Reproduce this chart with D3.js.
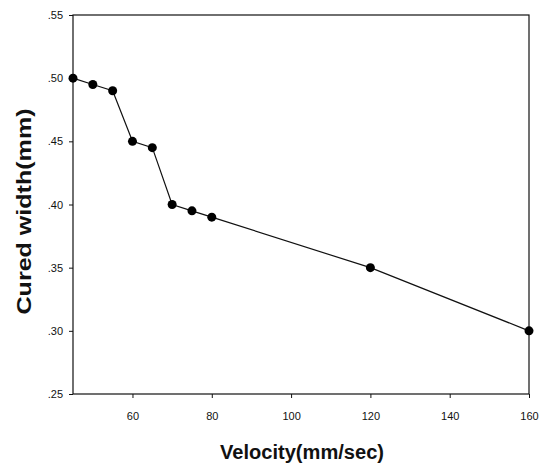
<!DOCTYPE html>
<html>
<head>
<meta charset="utf-8">
<script src="https://cdn.jsdelivr.net/npm/d3@7"></script>
<style>
    body { margin: 0; background: #fff; }
    svg { display: block; }
</style>
</head>
<body>
<svg id="chart"></svg>
<script>
// values
const velocity = [45, 50, 55, 60, 65, 70, 75, 80, 120, 160];
const curedWidth = [0.50, 0.495, 0.49, 0.45, 0.445, 0.40, 0.395, 0.39, 0.35, 0.30];
const xTicks = [60, 80, 100, 120, 140, 160];
const yTicks = [0.25, 0.30, 0.35, 0.40, 0.45, 0.50, 0.55];

const width = 545;
const height = 468;
const margin = {top: 15, right: 16, bottom: 74, left: 73};

const svg = d3.select("#chart")
    .attr("width", width)
    .attr("height", height);

const x = d3.scaleLinear()
    .domain([45, 160])
    .range([margin.left, width - margin.right]);

const y = d3.scaleLinear()
    .domain([0.25, 0.55])
    .range([height - margin.bottom, margin.top]);

const fmt = d => d3.format(".2f")(d).replace(/^0/, "");

// frame
svg.append("rect")
    .attr("x", margin.left)
    .attr("y", margin.top)
    .attr("width", x(160) - x(45))
    .attr("height", y(0.25) - y(0.55))
    .attr("fill", "none")
    .attr("stroke", "#111")
    .attr("stroke-width", 1.2);

const xAxis = svg.append("g")
    .attr("transform", `translate(0,${y(0.25)})`)
    .call(d3.axisBottom(x).tickValues(xTicks).tickSize(4).tickPadding(14));

const yAxis = svg.append("g")
    .attr("transform", `translate(${x(45)},0)`)
    .call(d3.axisLeft(y).tickValues(yTicks).tickFormat(fmt).tickSize(4).tickPadding(6));

[xAxis, yAxis].forEach(a =>
{
    a.select(".domain").remove();
    a.selectAll("line").attr("stroke", "#111");
    a.selectAll("text")
        .attr("fill", "#111")
        .attr("font-family", "Arial, 'Liberation Sans', sans-serif")
        .attr("font-size", "11px");
});

// series
const pts = velocity.map((v, i) => [v, curedWidth[i]]);

svg.append("path")
    .datum(pts)
    .attr("fill", "none")
    .attr("stroke", "#111")
    .attr("stroke-width", 1.2)
    .attr("d", d3.line().x(d => x(d[0])).y(d => y(d[1])));

svg.selectAll("circle.pt")
    .data(pts)
    .enter().append("circle")
    .attr("class", "pt")
    .attr("cx", d => x(d[0]))
    .attr("cy", d => y(d[1]))
    .attr("r", 4.5)
    .attr("fill", "#000");

// titles
svg.append("text")
    .attr("x", 302)
    .attr("y", 459)
    .attr("text-anchor", "middle")
    .attr("font-family", "Arial, 'Liberation Sans', sans-serif")
    .attr("font-size", "20px")
    .attr("font-weight", "bold")
    .attr("textLength", 164)
    .attr("lengthAdjust", "spacingAndGlyphs")
    .attr("fill", "#111")
    .text("Velocity(mm/sec)");

svg.append("text")
    .attr("transform", `translate(31,${(y(0.25) + y(0.55)) / 2 + 7}) rotate(-90)`)
    .attr("text-anchor", "middle")
    .attr("font-family", "Arial, 'Liberation Sans', sans-serif")
    .attr("font-size", "21px")
    .attr("font-weight", "bold")
    .attr("textLength", 206)
    .attr("lengthAdjust", "spacingAndGlyphs")
    .attr("fill", "#111")
    .text("Cured width(mm)");
</script>
</body>
</html>
